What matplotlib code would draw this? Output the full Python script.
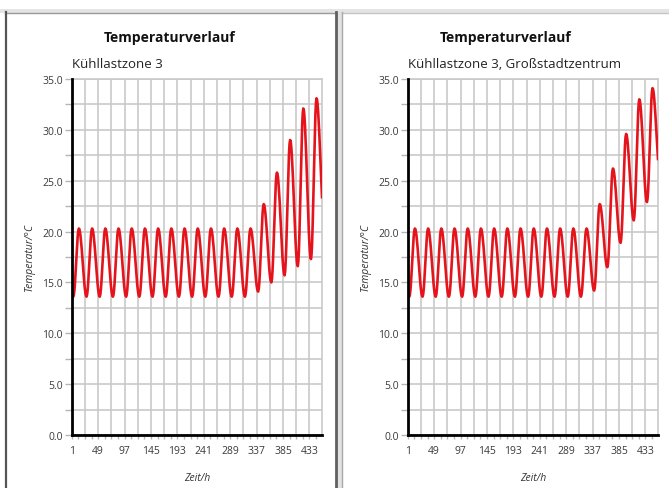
import matplotlib
matplotlib.use("Agg")
import matplotlib.pyplot as plt
import numpy as np
from matplotlib.lines import Line2D
from matplotlib.patches import Rectangle
from matplotlib.ticker import FixedLocator, FixedFormatter, MultipleLocator

plt.rcParams['font.family'] = ['Open Sans', 'DejaVu Sans']

# ---- data ----
title = "Temperaturverlauf"
subtitle_left = "Kühllastzone 3"
subtitle_right = "Kühllastzone 3, Großstadtzentrum"
xlabel = "Zeit/h"
ylabel = "Temperatur/°C"
x_tick_labels = [1, 49, 97, 145, 193, 241, 289, 337, 385, 433]
y_tick_values = [0, 5, 10, 15, 20, 25, 30, 35]

# daily minimum (around hour 3 of each day) and maximum (around hour 13)
left_daily_min = [13.6, 13.6, 13.6, 13.6, 13.6, 13.6, 13.6, 13.6, 13.6, 13.6,
                  13.6, 13.6, 13.6, 13.6, 14.1, 15.0, 15.7, 16.6, 17.3, 21.1]
left_daily_max = [20.3, 20.3, 20.3, 20.3, 20.3, 20.3, 20.3, 20.3, 20.3, 20.3,
                  20.3, 20.3, 20.3, 20.3, 22.7, 25.8, 29.0, 32.1, 33.1]
right_daily_min = [13.6, 13.6, 13.6, 13.6, 13.6, 13.6, 13.6, 13.6, 13.6, 13.6,
                   13.6, 13.6, 13.6, 13.6, 14.2, 16.5, 18.9, 21.1, 22.9, 25.5]
right_daily_max = [20.3, 20.3, 20.3, 20.3, 20.3, 20.3, 20.3, 20.3, 20.3, 20.3,
                   20.3, 20.3, 20.3, 20.3, 22.7, 26.2, 29.6, 33.0, 34.1]
# normalised daily shape read from the flat days
rise_shape = [0.0, 0.03, 0.10, 0.21, 0.35, 0.50, 0.65, 0.79, 0.90, 0.97, 1.0]
fall_shape = [1.0, 0.99, 0.95, 0.89, 0.81, 0.72, 0.61, 0.50, 0.39, 0.28, 0.19,
              0.11, 0.05, 0.01, 0.0]
n_hours = 456


def build_series(mins, maxs):
    hours = np.arange(1, n_hours + 1)
    vals = []
    for h in hours:
        k = (h - 1) % 24
        d = (h - 1) // 24
        if 3 <= k <= 13:
            lo, hi = mins[d], maxs[d]
            vals.append(lo + (hi - lo) * rise_shape[k - 3])
        elif k > 13:
            lo, hi = mins[d + 1], maxs[d]
            vals.append(lo + (hi - lo) * fall_shape[k - 13])
        else:
            lo, hi = mins[d], maxs[max(d - 1, 0)]
            vals.append(lo + (hi - lo) * fall_shape[k + 11])
    return hours, np.array(vals)


W, H = 669, 489
fig = plt.figure(figsize=(W / 100, H / 100), dpi=100)
fig.patch.set_facecolor("white")


def fx(x):
    return x / W


def fy(y):
    return 1 - y / H


def hline(x0, x1, y, color, lw):
    fig.add_artist(Line2D([fx(x0), fx(x1)], [fy(y), fy(y)], color=color, lw=lw,
                          transform=fig.transFigure))


def vline(x, y0, y1, color, lw):
    fig.add_artist(Line2D([fx(x), fx(x)], [fy(y0), fy(y1)], color=color, lw=lw,
                          transform=fig.transFigure))


# panel frames
fig.add_artist(Rectangle((0, fy(13.5)), 1, fy(10) - fy(13.5), transform=fig.transFigure,
                         color="#e4e4e4", lw=0))
hline(5, 335, 13.5, "#9a9a9a", 1.0)
hline(342, 669, 13.5, "#c4c4c4", 1.0)
vline(5.5, 13, 489, "#555555", 1.6)
fig.add_artist(Rectangle((fx(336), 0), fx(342) - fx(336), fy(13), transform=fig.transFigure,
                         color="#e2e2e2", lw=0))
vline(335.5, 13, 489, "#606060", 2.0)
vline(342, 13, 489, "#a8a8a8", 1.0)

ax_w = 250.3 / W
ax_h = (436 - 80) / H
bottom = fy(436)

panels = [
    (71.7, 170, subtitle_left, left_daily_min, left_daily_max),
    (407.7, 506, subtitle_right, right_daily_min, right_daily_max),
]

for left_px, center_px, sub, mins, maxs in panels:
    ax = fig.add_axes([fx(left_px), bottom, ax_w, ax_h])
    hours, temps = build_series(mins, maxs)
    ax.set_xlim(1, n_hours)
    ax.set_ylim(0, 35)
    # grid
    ax.xaxis.set_major_locator(FixedLocator(np.arange(1, n_hours + 1, 24)))
    labels = [str(v) if v in x_tick_labels else "" for v in np.arange(1, n_hours + 1, 24)]
    ax.xaxis.set_major_formatter(FixedFormatter(labels))
    ax.xaxis.set_minor_locator(FixedLocator(np.arange(13, n_hours + 1, 24)))
    ax.yaxis.set_major_locator(FixedLocator(y_tick_values))
    ax.yaxis.set_major_formatter(FixedFormatter([f"{v:.1f}" for v in y_tick_values]))
    ax.yaxis.set_minor_locator(MultipleLocator(2.5))
    ax.grid(True, which="major", color="#c9c9c9", lw=1.2)
    ax.grid(True, which="minor", axis="y", color="#c9c9c9", lw=1.2)
    ax.set_axisbelow(True)
    ax.plot(hours, temps, color="#e5141c", lw=1.9, zorder=3)
    for s in ["top", "right"]:
        ax.spines[s].set_color("#c9c9c9")
        ax.spines[s].set_linewidth(1.2)
    for s in ["left", "bottom"]:
        ax.spines[s].set_color("black")
        ax.spines[s].set_linewidth(2.0)
        ax.spines[s].set_zorder(4)
    ax.tick_params(axis="both", which="both", direction="out", color="#b5b5b5",
                   labelsize=7.5, labelcolor="#3a3a3a", width=1.0)
    ax.tick_params(axis="y", which="both", length=5, pad=1.5)
    ax.tick_params(axis="x", which="both", length=3, pad=4)
    ax.set_xlabel(xlabel, fontsize=7.5, style="italic", color="#333333", labelpad=12)
    ax.set_ylabel(ylabel, fontsize=7.5, style="italic", color="#333333", labelpad=5)
    fig.text(fx(center_px), fy(38), title, ha="center", va="center", fontsize=10,
             fontweight="bold", color="#111111")
    fig.text(fx(left_px), fy(64.5), sub, ha="left", va="center", fontsize=9.5,
             color="#222222")

fig.savefig("out.png", dpi=100)
